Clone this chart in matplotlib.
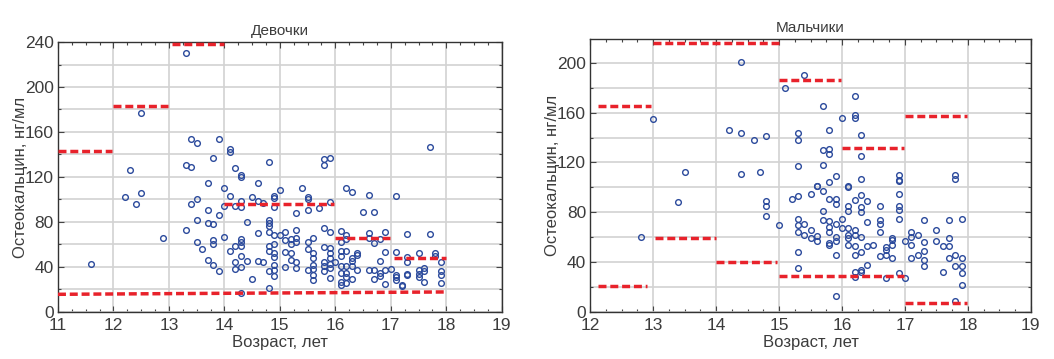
import numpy as np
import matplotlib.pyplot as plt
from matplotlib.ticker import MultipleLocator

# ---------------------------------------------------------------
# Data
# ---------------------------------------------------------------
girls_age = [
    11.6, 12.2, 12.3, 12.4, 12.5, 12.5, 12.9,
    13.3, 13.3, 13.3, 13.4, 13.4, 13.4, 13.5, 13.5, 13.5, 13.5, 13.6,
    13.7, 13.7, 13.7, 13.7, 13.8, 13.8, 13.8, 13.8, 13.8, 13.9, 13.9, 13.9,
    14.0, 14.0, 14.0, 14.1, 14.1, 14.1, 14.1, 14.2, 14.2, 14.2, 14.2, 14.2,
    14.3, 14.3, 14.3, 14.3, 14.3, 14.3, 14.3, 14.3, 14.3, 14.3,
    14.4, 14.4, 14.5, 14.5, 14.6, 14.6, 14.6, 14.6, 14.7, 14.7,
    14.8, 14.8, 14.8, 14.8, 14.8, 14.8, 14.8, 14.8, 14.8,
    14.9, 14.9, 14.9, 14.9, 14.9, 14.9, 14.9, 14.9, 14.9, 14.9,
    15.0, 15.0, 15.1, 15.1, 15.1, 15.1, 15.2, 15.2, 15.2, 15.2,
    15.3, 15.3, 15.3, 15.3, 15.3, 15.3, 15.4,
    15.5, 15.5, 15.5, 15.5, 15.5, 15.5,
    15.6, 15.6, 15.6, 15.6, 15.6, 15.6, 15.6, 15.7,
    15.8, 15.8, 15.8, 15.8, 15.8, 15.8, 15.8,
    15.9, 15.9, 15.9, 15.9, 15.9, 15.9, 15.9, 15.9, 15.9, 16.0,
    16.1, 16.1, 16.1, 16.1, 16.1, 16.1, 16.1, 16.1,
    16.2, 16.2, 16.2, 16.2, 16.2, 16.2, 16.2, 16.2,
    16.3, 16.3, 16.3, 16.3, 16.3, 16.4, 16.4, 16.4, 16.5,
    16.6, 16.6, 16.6, 16.6, 16.7, 16.7, 16.7, 16.7,
    16.8, 16.8, 16.8, 16.8, 16.9, 16.9, 16.9, 16.9, 17.0,
    17.1, 17.1, 17.1, 17.1, 17.1, 17.2, 17.2,
    17.3, 17.3, 17.3, 17.3, 17.3, 17.5, 17.5, 17.5, 17.5,
    17.6, 17.6, 17.6, 17.7, 17.7, 17.8, 17.8, 17.9, 17.9, 17.9, 17.9,
]
girls_oc = [
    43, 102, 126, 96, 177, 106, 66,
    230, 131, 73, 154, 129, 96, 150, 100, 82, 62, 56,
    115, 91, 79, 46, 137, 78, 64, 60, 42, 154, 86, 36,
    110, 94, 67, 145, 142, 103, 54, 128, 94, 59, 44, 38,
    122, 120, 99, 93, 65, 62, 59, 50, 40, 17,
    80, 45, 102, 29, 115, 99, 70, 45, 97, 44,
    133, 82, 79, 76, 71, 59, 54, 36, 21,
    103, 101, 93, 68, 60, 52, 49, 42, 37, 32,
    108, 68, 71, 64, 53, 40, 65, 60, 52, 46,
    88, 73, 66, 62, 44, 39, 110,
    102, 100, 91, 62, 56, 37,
    66, 52, 48, 42, 38, 33, 28, 92,
    136, 131, 75, 58, 44, 41, 36,
    137, 98, 71, 57, 52, 48, 43, 39, 30, 44,
    72, 62, 54, 50, 41, 35, 27, 24,
    110, 68, 65, 54, 41, 35, 31, 26,
    107, 48, 45, 41, 29, 52, 51, 37, 89,
    104, 70, 66, 37, 89, 61, 37, 29,
    65, 45, 35, 32, 71, 53, 37, 25, 38,
    103, 53, 33, 31, 28, 24, 23,
    69, 49, 44, 34, 33, 52, 37, 34, 31,
    39, 36, 27, 147, 69, 52, 50, 44, 36, 33, 26,
]

boys_age = [
    12.8, 13.0, 13.4, 13.5, 14.2, 14.4, 14.4, 14.4, 14.6, 14.7,
    14.8, 14.8, 14.8, 14.8, 15.0, 15.1, 15.2,
    15.3, 15.3, 15.3, 15.3, 15.3, 15.3, 15.3, 15.3, 15.3,
    15.4, 15.4, 15.4, 15.5, 15.5, 15.5, 15.6, 15.6, 15.6, 15.6,
    15.7, 15.7, 15.7, 15.7, 15.7, 15.7,
    15.8, 15.8, 15.8, 15.8, 15.8, 15.8, 15.8, 15.8, 15.8, 15.8,
    15.9, 15.9, 15.9, 15.9, 15.9, 15.9, 15.9, 15.9,
    16.0, 16.0, 16.0,
    16.1, 16.1, 16.1, 16.1, 16.1, 16.1, 16.1, 16.1,
    16.2, 16.2, 16.2, 16.2, 16.2, 16.2, 16.2, 16.2, 16.2, 16.2,
    16.3, 16.3, 16.3, 16.3, 16.3, 16.3, 16.3, 16.3, 16.3, 16.3,
    16.4, 16.4, 16.4, 16.4, 16.5,
    16.6, 16.6, 16.6, 16.6, 16.6, 16.7, 16.7, 16.7, 16.7,
    16.8, 16.8, 16.8, 16.8,
    16.9, 16.9, 16.9, 16.9, 16.9, 16.9, 16.9, 16.9,
    17.0, 17.0, 17.1, 17.1, 17.1, 17.1, 17.2, 17.2,
    17.3, 17.3, 17.3, 17.3, 17.3, 17.5, 17.5, 17.6, 17.6,
    17.7, 17.7, 17.7, 17.7, 17.8, 17.8, 17.8, 17.8, 17.8,
    17.9, 17.9, 17.9, 17.9, 17.9,
]
boys_oc = [
    60, 155, 88, 112, 146, 201, 144, 111, 138, 112,
    141, 89, 85, 77, 70, 180, 91,
    144, 138, 117, 93, 75, 70, 64, 48, 35,
    190, 71, 62, 95, 66, 59, 101, 101, 61, 57,
    165, 130, 118, 97, 81, 74,
    146, 131, 127, 104, 91, 73, 68, 64, 55, 54,
    109, 91, 87, 71, 60, 57, 46, 13,
    156, 75, 67,
    101, 100, 85, 81, 67, 62, 59, 54,
    173, 158, 156, 90, 66, 62, 53, 46, 32, 28,
    142, 125, 107, 94, 84, 80, 60, 48, 34, 32,
    89, 72, 53, 38, 54,
    85, 74, 71, 64, 45, 52, 50, 46, 27,
    59, 58, 54, 43,
    110, 106, 105, 95, 85, 82, 75, 31,
    57, 27, 64, 60, 54, 43, 62, 46,
    74, 56, 49, 42, 37, 66, 57, 32, 53,
    74, 59, 53, 43, 110, 107, 46, 37, 9,
    75, 43, 37, 31, 22,
]

# red dashed reference segments: start age, end age, start value, end value
girls_seg_x0 = [11.0, 12.0, 13.05, 14.0, 16.0, 17.05, 11.0]
girls_seg_x1 = [11.98, 12.98, 14.0, 15.98, 16.98, 18.0, 18.0]
girls_seg_y0 = [143, 183, 238, 96, 66, 48, 15.7]
girls_seg_y1 = [143, 183, 238, 96, 66, 48, 17.8]

boys_seg_x0 = [12.13, 12.13, 13.0, 13.03, 14.0, 15.0, 15.0, 16.0, 17.0, 17.0]
boys_seg_x1 = [12.9, 12.97, 15.0, 14.0, 14.97, 15.98, 16.98, 16.98, 17.98, 17.98]
boys_seg_y0 = [21, 165, 216, 59, 40, 186, 29, 132, 157, 7.5]
boys_seg_y1 = [21, 165, 216, 59, 40, 186, 29, 132, 157, 7.5]

# ---------------------------------------------------------------
# Style
# ---------------------------------------------------------------
TXT = "#3c3c3c"
DOT = "#2b4a9c"
RED = "#e8222b"
GRID = "#d2d2d2"

plt.rcParams['font.family'] = ['Liberation Sans', 'DejaVu Sans']
plt.rcParams['text.color'] = TXT
plt.rcParams['axes.labelcolor'] = TXT
plt.rcParams['xtick.color'] = TXT
plt.rcParams['ytick.color'] = TXT

fig = plt.figure(figsize=(10.54, 3.59), dpi=100)
ax1 = fig.add_axes([0.055, 0.131, 0.421, 0.752])
ax2 = fig.add_axes([0.560, 0.131, 0.418, 0.760])


def draw_panel(ax, ages, vals, sx0, sx1, sy0, sy1, xlim, ylim, title):
    ax.plot(ages, vals, 'o', ms=4.1, mfc='none', mec=DOT, mew=1.0, zorder=3)
    for a, b, c, d in zip(sx0, sx1, sy0, sy1):
        ax.plot([a, b], [c, d], color=RED, lw=2.5, dashes=(2.3, 1.1),
                solid_capstyle='butt', dash_capstyle='butt', zorder=4)
    ax.set_xlim(*xlim)
    ax.set_ylim(*ylim)
    ax.xaxis.set_major_locator(MultipleLocator(1))
    ax.xaxis.set_minor_locator(MultipleLocator(0.25))
    ax.yaxis.set_major_locator(MultipleLocator(40))
    ax.yaxis.set_minor_locator(MultipleLocator(20))
    ax.grid(True, which='major', color=GRID, lw=1.2, zorder=0)
    ax.grid(True, which='minor', axis='y', color=GRID, lw=1.2, zorder=0)
    ax.set_axisbelow(True)
    ax.tick_params(which='both', direction='in', top=True, right=True,
                   width=0.8, color='#444444')
    ax.tick_params(which='major', length=4, labelsize=12.5)
    ax.tick_params(axis='x', which='major', pad=4)
    ax.tick_params(axis='y', which='major', pad=3)
    ax.tick_params(which='minor', length=2.5)
    for sp in ax.spines.values():
        sp.set_color('#333333')
        sp.set_linewidth(1.0)
    ax.set_title(title, fontsize=11, color=TXT, pad=5)
    ax.set_xlabel('Возраст, лет', fontsize=12, labelpad=2)
    ax.set_ylabel('Остеокальцин, нг/мл', fontsize=12, labelpad=-2)


draw_panel(ax1, girls_age, girls_oc, girls_seg_x0, girls_seg_x1,
           girls_seg_y0, girls_seg_y1, (11, 19), (0, 240), 'Девочки')
draw_panel(ax2, boys_age, boys_oc, boys_seg_x0, boys_seg_x1,
           boys_seg_y0, boys_seg_y1, (12, 19), (0, 219), 'Мальчики')

plt.savefig('out.png', dpi=100)
